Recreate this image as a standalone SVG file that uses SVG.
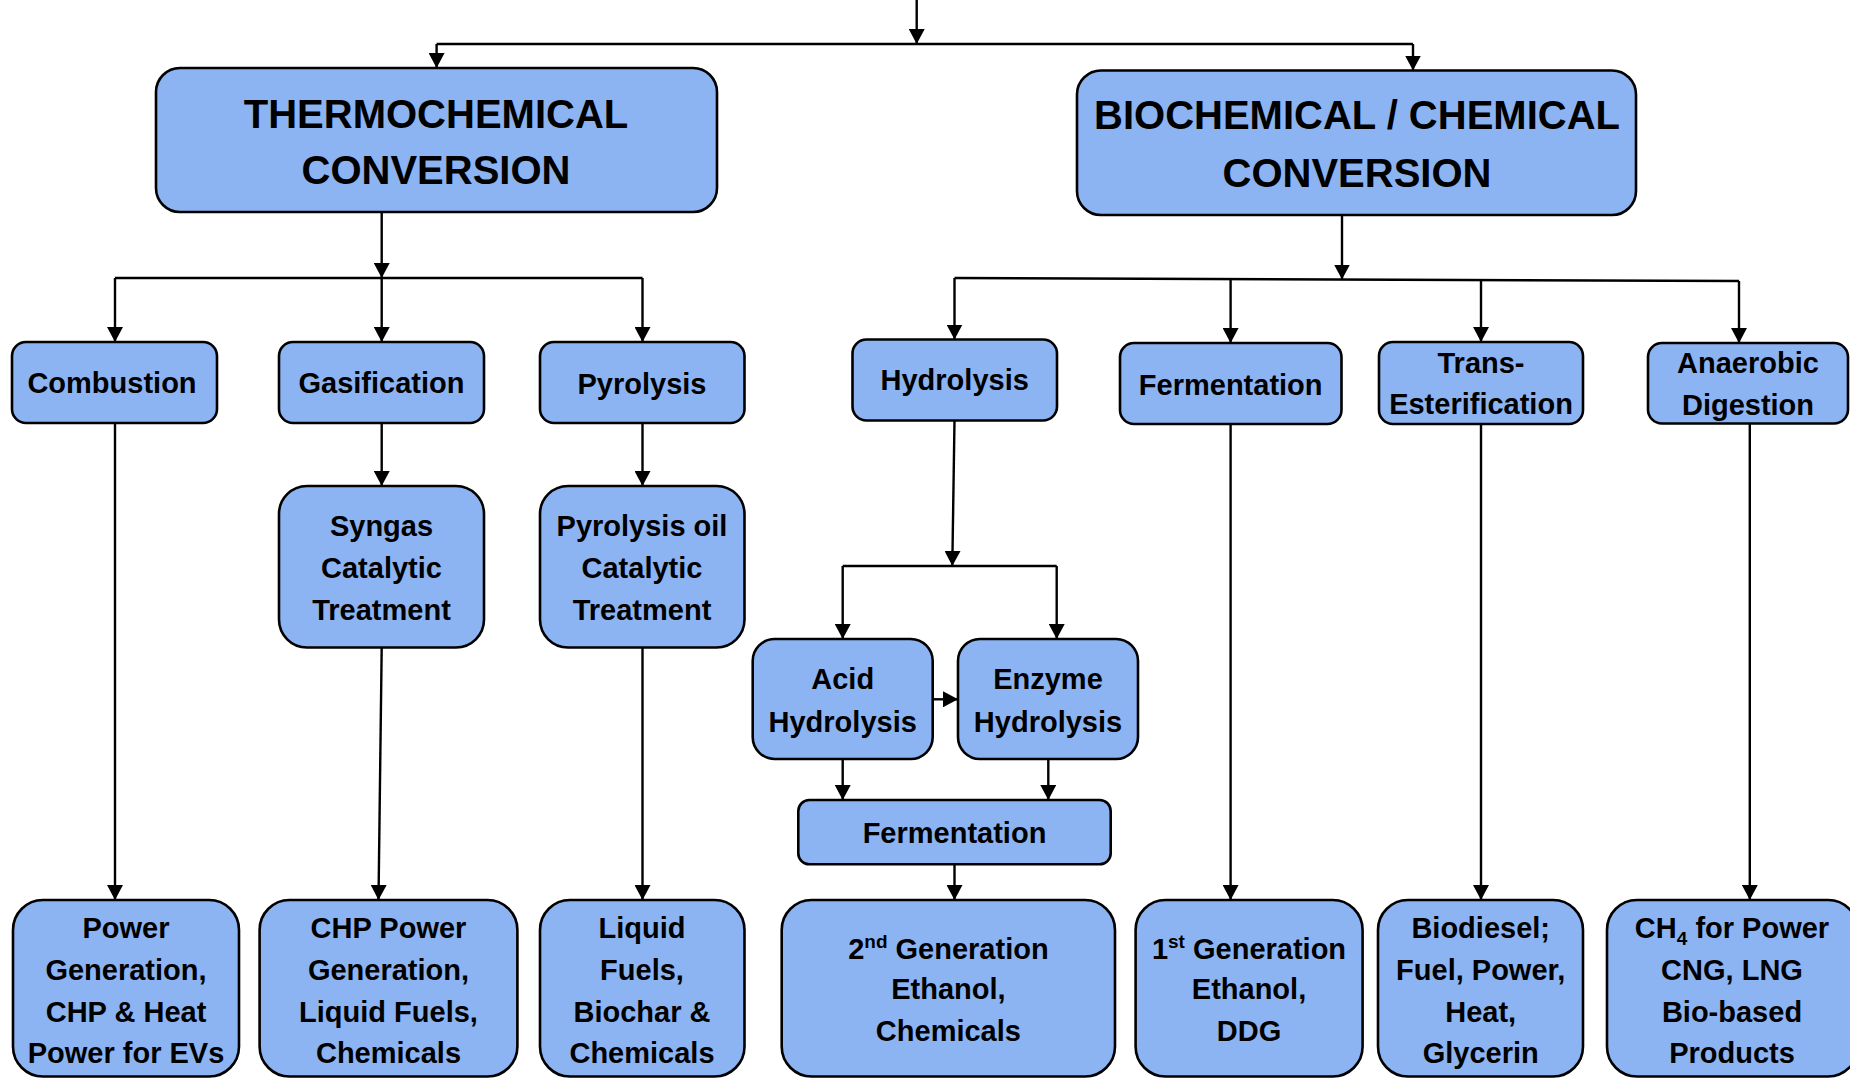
<svg xmlns="http://www.w3.org/2000/svg" width="1850" height="1078" viewBox="0 0 1850 1078">
<style>
.box{fill:#8cb4f3;stroke:#000;stroke-width:2.6}
.t{font-family:"Liberation Sans",Arial,sans-serif;font-weight:bold;fill:#000;text-anchor:middle}
.big{font-size:40px}
.sm{font-size:29px}
.c{fill:none;stroke:#000;stroke-width:2.4}
</style>
<defs>
<marker id="ah" viewBox="0 0 15 16" markerWidth="15" markerHeight="16" refX="15" refY="8" orient="auto" markerUnits="userSpaceOnUse">
<path d="M0,0 L15,8 L0,16 Z" fill="#000"/>
</marker>
</defs>
<rect width="1850" height="1078" fill="#fff"/>
<g id="connectors">
<path class="c" d="M916.7,0 V44" marker-end="url(#ah)"/>
<path class="c" d="M436.6,44 H1413"/>
<path class="c" d="M436.6,44 V68" marker-end="url(#ah)"/>
<path class="c" d="M1413,44 V70.5" marker-end="url(#ah)"/>
<path class="c" d="M381.7,212 V278" marker-end="url(#ah)"/>
<path class="c" d="M115,278 H642.5"/>
<path class="c" d="M115,278 V342" marker-end="url(#ah)"/>
<path class="c" d="M381.7,278 V342" marker-end="url(#ah)"/>
<path class="c" d="M642.5,278 V342" marker-end="url(#ah)"/>
<path class="c" d="M1342,215 V279.5" marker-end="url(#ah)"/>
<path class="c" d="M954.5,278 L1739,281"/>
<path class="c" d="M954.5,278 V339.5" marker-end="url(#ah)"/>
<path class="c" d="M1230.6,279.5 V343" marker-end="url(#ah)"/>
<path class="c" d="M1481,280.5 V342" marker-end="url(#ah)"/>
<path class="c" d="M1739,281 V343" marker-end="url(#ah)"/>
<path class="c" d="M115,423 V900" marker-end="url(#ah)"/>
<path class="c" d="M381.7,423 V486" marker-end="url(#ah)"/>
<path class="c" d="M381.7,647.5 L378.5,900" marker-end="url(#ah)"/>
<path class="c" d="M642.5,423 V486" marker-end="url(#ah)"/>
<path class="c" d="M642.5,647.5 V900" marker-end="url(#ah)"/>
<path class="c" d="M954.5,420.5 L952.3,566" marker-end="url(#ah)"/>
<path class="c" d="M842.7,566 H1056.7"/>
<path class="c" d="M842.7,566 V639" marker-end="url(#ah)"/>
<path class="c" d="M1056.7,566 V639" marker-end="url(#ah)"/>
<path class="c" d="M932.7,699.3 H958" marker-end="url(#ah)"/>
<path class="c" d="M842.7,759 V800" marker-end="url(#ah)"/>
<path class="c" d="M1048.3,759 V800" marker-end="url(#ah)"/>
<path class="c" d="M954.5,864.3 V900" marker-end="url(#ah)"/>
<path class="c" d="M1230.6,424 V900" marker-end="url(#ah)"/>
<path class="c" d="M1481,424 V900" marker-end="url(#ah)"/>
<path class="c" d="M1749.8,423.5 V900" marker-end="url(#ah)"/>
</g>
<g id="thermochemical">
<rect class="box" x="156" y="68" width="561" height="144" rx="24"/>
<text class="t big" x="436" y="128">THERMOCHEMICAL</text>
<text class="t big" x="436" y="184">CONVERSION</text>
</g>
<g id="biochemical">
<rect class="box" x="1077" y="70.5" width="559" height="144.5" rx="24"/>
<text class="t big" x="1357" y="129">BIOCHEMICAL / CHEMICAL</text>
<text class="t big" x="1357" y="187">CONVERSION</text>
</g>
<g id="combustion">
<rect class="box" x="12" y="342" width="205" height="81" rx="14"/>
<text class="t sm" x="112" y="393">Combustion</text>
</g>
<g id="gasification">
<rect class="box" x="279" y="342" width="205" height="81" rx="14"/>
<text class="t sm" x="381.5" y="393">Gasification</text>
</g>
<g id="pyrolysis">
<rect class="box" x="540" y="342" width="204.5" height="81" rx="14"/>
<text class="t sm" x="642" y="394">Pyrolysis</text>
</g>
<g id="hydrolysis">
<rect class="box" x="852.5" y="339.5" width="204.5" height="81" rx="14"/>
<text class="t sm" x="954.7" y="390">Hydrolysis</text>
</g>
<g id="fermentation1">
<rect class="box" x="1120" y="343" width="221.5" height="81" rx="14"/>
<text class="t sm" x="1230.7" y="395">Fermentation</text>
</g>
<g id="transesterification">
<rect class="box" x="1379" y="342" width="204" height="82" rx="14"/>
<text class="t sm" x="1481" y="372.7">Trans-</text>
<text class="t sm" x="1481" y="414">Esterification</text>
</g>
<g id="anaerobic">
<rect class="box" x="1648" y="343" width="200" height="80.5" rx="14"/>
<text class="t sm" x="1748" y="373">Anaerobic</text>
<text class="t sm" x="1748" y="415">Digestion</text>
</g>
<g id="syngas">
<rect class="box" x="279" y="486" width="205" height="161.5" rx="28"/>
<text class="t sm" x="381.5" y="536.4">Syngas</text>
<text class="t sm" x="381.5" y="577.5">Catalytic</text>
<text class="t sm" x="381.5" y="619.8">Treatment</text>
</g>
<g id="pyrolysisoil">
<rect class="box" x="540" y="486" width="204.5" height="161.5" rx="28"/>
<text class="t sm" x="642" y="536.4">Pyrolysis oil</text>
<text class="t sm" x="642" y="577.5">Catalytic</text>
<text class="t sm" x="642" y="619.8">Treatment</text>
</g>
<g id="acid">
<rect class="box" x="752.7" y="639" width="180" height="120" rx="22"/>
<text class="t sm" x="842.7" y="689.3">Acid</text>
<text class="t sm" x="842.7" y="731.7">Hydrolysis</text>
</g>
<g id="enzyme">
<rect class="box" x="958" y="639" width="180" height="120" rx="22"/>
<text class="t sm" x="1048" y="689.3">Enzyme</text>
<text class="t sm" x="1048" y="731.7">Hydrolysis</text>
</g>
<g id="fermentation2">
<rect class="box" x="798.3" y="800" width="312.4" height="64.3" rx="11"/>
<text class="t sm" x="954.5" y="843.3">Fermentation</text>
</g>
<g id="powergen">
<rect class="box" x="13" y="900" width="226" height="176.5" rx="30"/>
<text class="t sm" x="126" y="938">Power</text>
<text class="t sm" x="126" y="980">Generation,</text>
<text class="t sm" x="126" y="1022">CHP &amp; Heat</text>
<text class="t sm" x="126" y="1063">Power for EVs</text>
</g>
<g id="chp">
<rect class="box" x="259.6" y="900" width="257.8" height="176.5" rx="30"/>
<text class="t sm" x="388.5" y="938">CHP Power</text>
<text class="t sm" x="388.5" y="980">Generation,</text>
<text class="t sm" x="388.5" y="1022">Liquid Fuels,</text>
<text class="t sm" x="388.5" y="1063">Chemicals</text>
</g>
<g id="liquid">
<rect class="box" x="540" y="900" width="204.5" height="176.5" rx="30"/>
<text class="t sm" x="642" y="938">Liquid</text>
<text class="t sm" x="642" y="980">Fuels,</text>
<text class="t sm" x="642" y="1022">Biochar &amp;</text>
<text class="t sm" x="642" y="1063">Chemicals</text>
</g>
<g id="secondgen">
<rect class="box" x="781.7" y="900" width="333.3" height="176.5" rx="30"/>
<text class="t sm" x="948.4" y="958.7">2<tspan font-size="19" dy="-11">nd</tspan><tspan dy="11"> Generation</tspan></text>
<text class="t sm" x="948.4" y="999.4">Ethanol,</text>
<text class="t sm" x="948.4" y="1041">Chemicals</text>
</g>
<g id="firstgen">
<rect class="box" x="1135.6" y="900" width="227" height="176.5" rx="30"/>
<text class="t sm" x="1249" y="958.7">1<tspan font-size="19" dy="-11">st</tspan><tspan dy="11"> Generation</tspan></text>
<text class="t sm" x="1249" y="999.4">Ethanol,</text>
<text class="t sm" x="1249" y="1041">DDG</text>
</g>
<g id="biodiesel">
<rect class="box" x="1378" y="900" width="205" height="176.5" rx="30"/>
<text class="t sm" x="1480.7" y="938">Biodiesel;</text>
<text class="t sm" x="1480.7" y="980">Fuel, Power,</text>
<text class="t sm" x="1480.7" y="1022">Heat,</text>
<text class="t sm" x="1480.7" y="1063">Glycerin</text>
</g>
<g id="ch4">
<rect class="box" x="1607" y="900" width="251" height="176.5" rx="30"/>
<text class="t sm" x="1732" y="938">CH<tspan font-size="19" dy="7">4</tspan><tspan dy="-7"> for Power</tspan></text>
<text class="t sm" x="1732" y="980">CNG, LNG</text>
<text class="t sm" x="1732" y="1022">Bio-based</text>
<text class="t sm" x="1732" y="1063">Products</text>
</g>
</svg>
